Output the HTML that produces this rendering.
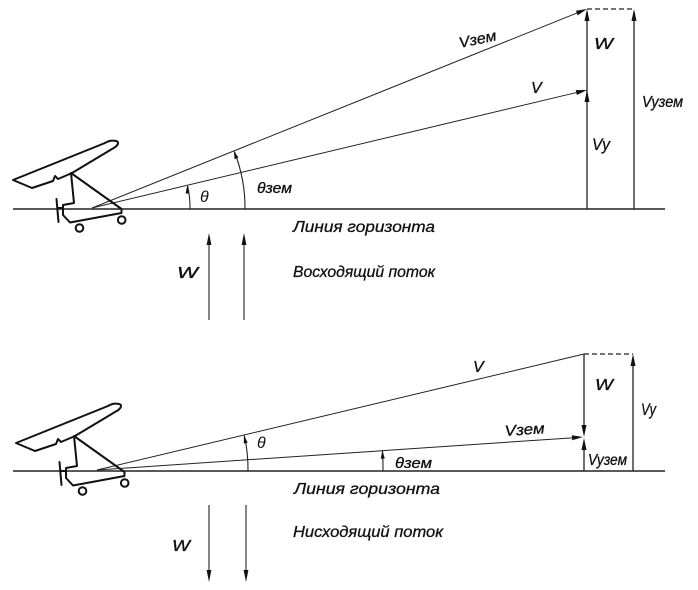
<!DOCTYPE html>
<html>
<head>
<meta charset="utf-8">
<style>
  html,body{margin:0;padding:0;background:#fff;}
  svg{display:block;}
  text{font-family:"Liberation Sans","DejaVu Sans",sans-serif;font-style:italic;fill:#111;}
  .lb{stroke:#111;stroke-width:0.3;}
</style>
</head>
<body>
<svg width="698" height="590" viewBox="0 0 698 590" xmlns="http://www.w3.org/2000/svg">
  <defs>
    <g id="plane" fill="none" stroke="#111" stroke-width="2" stroke-linejoin="round" stroke-linecap="round">
      <path d="M13,180 L32,188 L53,181 L55,176 L58,179 L72,173 L112,149 C118,146 120,142 116,141 C112,140 108,141 105,143 Z" fill="#fff"/>
      <path d="M71,173 L74,203 L63,205 L63,215 L70,222.5 L121.5,213 L121.5,209 L71,173"/>
      <path d="M56.5,199 L58.5,222"/>
      <path d="M58,208 L63,208"/>
      <circle cx="79.5" cy="228" r="3.8" fill="#fff"/>
      <circle cx="121.7" cy="220" r="3.8" fill="#fff"/>
    </g>
  </defs>

  <!-- ================= TOP DIAGRAM ================= -->
  <g stroke="#222" fill="none">
    <line x1="13" y1="209" x2="665" y2="209" stroke-width="1.4"/>
    <line x1="92" y1="208" x2="580" y2="91.7" stroke-width="1"/>
    <line x1="92" y1="208" x2="580" y2="11.8" stroke-width="1"/>
    <line x1="587" y1="209" x2="587" y2="12" stroke-width="1.3"/>
    <line x1="634" y1="209" x2="634" y2="12" stroke-width="1.3"/>
    <line x1="587" y1="9" x2="634" y2="9" stroke-width="1.2" stroke-dasharray="5,3"/>
    <path d="M190,209 A98,98 0 0 0 187.6,186" stroke-width="1.1"/>
    <path d="M245,209 A153,153 0 0 0 234.5,152" stroke-width="1.1"/>
    <line x1="209" y1="320" x2="209" y2="240" stroke-width="1.1"/>
    <line x1="244" y1="320" x2="244" y2="240" stroke-width="1.1"/>
  </g>
  <g fill="#111" stroke="none">
    <polygon points="587,90 576.9,95 575.7,90.1"/>
    <polygon points="587,9 577.7,15.4 575.9,10.8"/>
    <polygon points="587,90 584.5,102 589.5,102"/>
    <polygon points="587,9 584.5,21 589.5,21"/>
    <polygon points="634,9 631.5,21 636.5,21"/>
    <polygon points="187.3,185 189.2,193.2 185.6,193.6"/>
    <polygon points="233.9,150.5 238.4,157.8 234.6,159.2"/>
    <polygon points="209,233 206.6,245 211.4,245"/>
    <polygon points="244,233 241.6,245 246.4,245"/>
  </g>
  <use href="#plane"/>

  <text class="lb" x="460" y="48" font-size="15" textLength="38" lengthAdjust="spacingAndGlyphs" transform="rotate(-12 460 48)">Vзем</text>
  <text class="lb" x="531" y="93" font-size="16">V</text>
  <text class="lb" x="594" y="49" font-size="16" textLength="19" lengthAdjust="spacingAndGlyphs">W</text>
  <text class="lb" x="592" y="150" font-size="17" textLength="18" lengthAdjust="spacingAndGlyphs">Vy</text>
  <text class="lb" x="642" y="107" font-size="16" textLength="41" lengthAdjust="spacingAndGlyphs">Vyзем</text>
  <text x="200" y="202" font-size="16">θ</text>
  <text class="lb" x="257" y="193" font-size="15" textLength="35" lengthAdjust="spacingAndGlyphs">θзем</text>
  <text class="lb" x="293" y="232" font-size="16" textLength="142" lengthAdjust="spacingAndGlyphs">Линия горизонта</text>
  <text class="lb" x="293" y="277" font-size="16" textLength="142" lengthAdjust="spacingAndGlyphs">Восходящий поток</text>
  <text class="lb" x="177" y="278" font-size="16" textLength="21" lengthAdjust="spacingAndGlyphs">W</text>

  <!-- ================= BOTTOM DIAGRAM ================= -->
  <g stroke="#222" fill="none">
    <line x1="13" y1="471" x2="665" y2="471" stroke-width="1.4"/>
    <line x1="97" y1="470" x2="584" y2="354" stroke-width="1"/>
    <line x1="97" y1="470" x2="574" y2="437.7" stroke-width="1"/>
    <line x1="584" y1="354" x2="584" y2="428" stroke-width="1.3"/>
    <line x1="584" y1="447" x2="584" y2="471" stroke-width="1.3"/>
    <line x1="633" y1="471" x2="633" y2="364" stroke-width="1.3"/>
    <line x1="584" y1="354" x2="633" y2="354" stroke-width="1.2" stroke-dasharray="5,3"/>
    <path d="M248,471 A151,151 0 0 0 244.3,435.5" stroke-width="1.1"/>
    <path d="M383,471 A286,286 0 0 0 382.5,451" stroke-width="1.1"/>
    <line x1="209" y1="505" x2="209" y2="575" stroke-width="1.1"/>
    <line x1="246" y1="505" x2="246" y2="575" stroke-width="1.1"/>
  </g>
  <g fill="#111" stroke="none">
    <polygon points="583,437 572.2,440.2 571.8,435.2"/>
    <polygon points="584,437 581.5,425 586.5,425"/>
    <polygon points="584,438 581.5,450 586.5,450"/>
    <polygon points="633,354 630.5,366 635.5,366"/>
    <polygon points="243.9,435 247.7,442.8 243.8,443.6"/>
    <polygon points="382.3,450.3 384.8,458.5 380.8,458.7"/>
    <polygon points="209,582 206.6,570 211.4,570"/>
    <polygon points="246,582 243.6,570 248.4,570"/>
  </g>
  <use href="#plane" transform="translate(3,263)"/>

  <text class="lb" x="473" y="372" font-size="16">V</text>
  <text x="257" y="448" font-size="16">θ</text>
  <text class="lb" x="395" y="468" font-size="15" textLength="37" lengthAdjust="spacingAndGlyphs">θзем</text>
  <text class="lb" x="505" y="436" font-size="15" textLength="40" lengthAdjust="spacingAndGlyphs" transform="rotate(-4 505 436)">Vзем</text>
  <text class="lb" x="595" y="390" font-size="16" textLength="18" lengthAdjust="spacingAndGlyphs">W</text>
  <text class="lb" x="641" y="415" font-size="17" textLength="15" lengthAdjust="spacingAndGlyphs">Vy</text>
  <text class="lb" x="588" y="465" font-size="16" textLength="39" lengthAdjust="spacingAndGlyphs">Vyзем</text>
  <text class="lb" x="294" y="494" font-size="16" textLength="146" lengthAdjust="spacingAndGlyphs">Линия горизонта</text>
  <text class="lb" x="293" y="537" font-size="16" textLength="150" lengthAdjust="spacingAndGlyphs">Нисходящий поток</text>
  <text class="lb" x="172" y="551" font-size="16" textLength="18" lengthAdjust="spacingAndGlyphs">W</text>
</svg>
</body>
</html>
